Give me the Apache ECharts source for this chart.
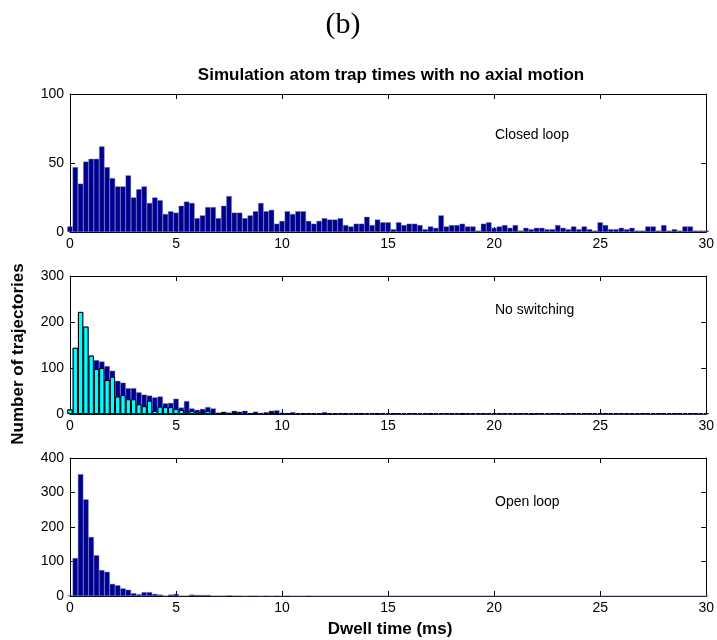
<!DOCTYPE html>
<html>
<head>
<meta charset="utf-8">
<script src="https://cdn.jsdelivr.net/npm/echarts@6/dist/echarts.min.js"></script>
<style>
  html, body { margin: 0; padding: 0; background: #fff; }
  #container { width: 717px; height: 640px; }
</style>
</head>
<body>
<div id="container"></div>
<script>
// bin centres run 0, 0.25, ... 30 (121 bins)
var binWidth = 0.25;

// Closed loop
var closedLoop = [
  4, 47, 35, 51, 53, 53, 62, 47, 39, 33,
  33, 41, 25, 31, 33, 21, 25, 23, 13, 15,
  14, 19, 22, 21, 10, 12, 18, 18, 10, 19,
  26, 14, 14, 10, 12, 15, 21, 15, 16, 6,
  8, 15, 13, 15, 15, 8, 6, 8, 10, 9,
  9, 10, 5, 4, 6, 6, 11, 5, 9, 7,
  7, 2, 7, 5, 6, 6, 5, 2, 4, 3,
  12, 4, 5, 5, 6, 4, 4, 1, 6, 7,
  3, 4, 5, 3, 5, 1, 3, 2, 3, 3,
  2, 2, 5, 3, 2, 4, 2, 4, 2, 1,
  7, 5, 2, 2, 3, 2, 3, 1, 1, 4,
  4, 1, 5, 1, 2, 1, 4, 4, 1, 1,
  1
];

// No switching - dark bars
var noSwitchDark = [
  10, 144, 222, 190, 127, 117, 114, 104, 94, 72,
  68, 56, 56, 47, 42, 40, 36, 38, 23, 24,
  33, 14, 28, 12, 9, 11, 15, 12, 3, 5,
  3, 7, 5, 7, 2, 5, 1, 4, 7, 8,
  3, 1, 4, 1, 1, 1, 1, 1, 4, 1,
  1, 0, 1, 0, 1, 1, 0, 0, 1, 0,
  0, 1, 0, 0, 0, 0, 0, 0, 1, 0,
  0, 0, 0, 0, 2, 0, 0, 0, 0, 0,
  0, 0, 0, 0, 0, 0, 0, 1, 0, 0,
  0, 0, 0, 1, 0, 0, 0, 0, 0, 0,
  0, 0, 0, 0, 0, 0, 0, 0, 0, 0,
  0, 0, 0, 0, 0, 0, 0, 0, 0, 0,
  0
];

// No switching - cyan bars
var noSwitchCyan = [
  10, 144, 222, 190, 127, 98, 100, 74, 81, 38,
  41, 32, 32, 21, 17, 29, 7, 16, 15, 15,
  11, 9, 5, 7, 5, 4, 7, 2, 2, 4,
  2, 4, 3, 2, 1, 2, 0, 1, 4, 2,
  1, 0, 1, 0, 0, 0, 0, 0, 1, 0,
  0, 0, 0, 0, 0, 0, 0, 0, 0, 0,
  0, 0, 0, 0, 0, 0, 0, 0, 0, 0,
  0, 0, 0, 0, 0, 0, 0, 0, 0, 0,
  0, 0, 0, 0, 0, 0, 0, 0, 0, 0,
  0, 0, 0, 0, 0, 0, 0, 0, 0, 0,
  0, 0, 0, 0, 0, 0, 0, 0, 0, 0,
  0, 0, 0, 0, 0, 0, 0, 0, 0, 0,
  0
];

// Open loop
var openLoop = [
  2, 110, 353, 280, 171, 118, 75, 70, 35, 31,
  22, 18, 8, 5, 11, 11, 6, 4, 1, 4,
  6, 1, 1, 4, 3, 3, 3, 1, 1, 1,
  2, 1, 1, 0, 1, 1, 0, 1, 0, 1,
  0, 1, 0, 0, 0, 1, 0, 0, 0, 0,
  0, 0, 0, 0, 0, 0, 0, 0, 0, 0,
  0, 0, 0, 0, 0, 0, 0, 0, 0, 0,
  0, 0, 0, 0, 0, 0, 0, 0, 0, 0,
  0, 0, 0, 0, 0, 0, 0, 0, 0, 0,
  0, 0, 0, 0, 0, 0, 0, 0, 0, 0,
  0, 0, 0, 0, 0, 0, 0, 0, 0, 0,
  0, 0, 0, 0, 0, 0, 0, 0, 0, 0,
  0
];

var xMin = 0, xMax = 30, xStep = 5;
var yMaxes = [100, 300, 400];
var ySteps = [50, 100, 100];
var panelNames = ['Closed loop', 'No switching', 'Open loop'];

var navy = '#00008f';
var edge = '#7070c8';
var font = 'Liberation Sans, Arial, Helvetica, sans-serif';

// grid geometry
var gridLeft = 70, gridRight = 8, gridH = 138;
var gridTops = [94, 276, 458];
var barW = (717 - gridLeft - gridRight) / ((xMax - xMin) / binWidth);

function toPairs(counts) {
  var out = [];
  for (var i = 0; i < counts.length; i++) out.push([i * binWidth, counts[i]]);
  return out;
}

var grids = [], xAxes = [], yAxes = [], series = [], graphics = [];
var tickStyle = { show: true, inside: true, length: 5, lineStyle: { color: '#000', width: 1 } };
var lineStyle = { show: true, onZero: false, lineStyle: { color: '#000', width: 1 } };

for (var p = 0; p < 3; p++) {
  grids.push({ left: gridLeft, right: gridRight, top: gridTops[p], height: gridH });
  // bottom axis with labels
  xAxes.push({
    gridIndex: p, type: 'value', min: xMin, max: xMax, interval: xStep, position: 'bottom',
    axisLine: lineStyle, axisTick: tickStyle, splitLine: { show: false },
    axisLabel: { color: '#000', fontFamily: font, fontSize: 14, margin: 5 }
  });
  // mirror axis on top
  xAxes.push({
    gridIndex: p, type: 'value', min: xMin, max: xMax, interval: xStep, position: 'top',
    axisLine: lineStyle, axisTick: tickStyle, splitLine: { show: false },
    axisLabel: { show: false }
  });
  yAxes.push({
    gridIndex: p, type: 'value', min: 0, max: yMaxes[p], interval: ySteps[p], position: 'left',
    axisLine: lineStyle, axisTick: tickStyle, splitLine: { show: false },
    axisLabel: { color: '#000', fontFamily: font, fontSize: 14, margin: 6 }
  });
  yAxes.push({
    gridIndex: p, type: 'value', min: 0, max: yMaxes[p], interval: ySteps[p], position: 'right',
    axisLine: lineStyle, axisTick: tickStyle, splitLine: { show: false },
    axisLabel: { show: false }
  });
}

series.push({
  type: 'bar', xAxisIndex: 0, yAxisIndex: 0, barWidth: barW,
  itemStyle: { color: navy, borderColor: edge, borderWidth: 0.4 },
  data: toPairs(closedLoop)
});
series.push({
  type: 'bar', xAxisIndex: 2, yAxisIndex: 2, barWidth: barW, barGap: '-100%',
  itemStyle: { color: navy, borderColor: edge, borderWidth: 0.4 },
  data: toPairs(noSwitchDark)
});
series.push({
  type: 'bar', xAxisIndex: 2, yAxisIndex: 2, barWidth: barW, barGap: '-100%', barMinHeight: 1,
  itemStyle: { color: '#00ffff', borderColor: '#000', borderWidth: 1 },
  data: toPairs(noSwitchCyan)
});
series.push({
  type: 'bar', xAxisIndex: 4, yAxisIndex: 4, barWidth: barW,
  itemStyle: { color: navy, borderColor: edge, borderWidth: 0.4 },
  data: toPairs(openLoop)
});

// panel labels
var labelY = [136, 311, 503];
for (var q = 0; q < 3; q++) {
  graphics.push({
    type: 'text', left: 495, top: labelY[q] - 8,
    style: { text: panelNames[q], fill: '#000', font: '14px ' + font }
  });
}

graphics.push({
  type: 'text', x: 343, y: 25,
  style: { text: '(b)', fill: '#000', font: '30px Liberation Serif, DejaVu Serif, serif', textAlign: 'center', textVerticalAlign: 'middle' }
});
graphics.push({
  type: 'text', x: 391, y: 75,
  style: { text: 'Simulation atom trap times with no axial motion', fill: '#000', font: 'bold 17px ' + font, textAlign: 'center', textVerticalAlign: 'middle' }
});
graphics.push({
  type: 'text', x: 390, y: 629,
  style: { text: 'Dwell time (ms)', fill: '#000', font: 'bold 17px ' + font, textAlign: 'center', textVerticalAlign: 'middle' }
});
graphics.push({
  type: 'text', x: 18, y: 354, rotation: Math.PI / 2,
  style: { text: 'Number of trajectories', fill: '#000', font: 'bold 17px ' + font, textAlign: 'center', textVerticalAlign: 'middle' }
});

var chart = echarts.init(document.getElementById('container'));
chart.setOption({
  backgroundColor: '#fff',
  animation: false,
  grid: grids,
  xAxis: xAxes,
  yAxis: yAxes,
  series: series,
  graphic: graphics
});
</script>
</body>
</html>
